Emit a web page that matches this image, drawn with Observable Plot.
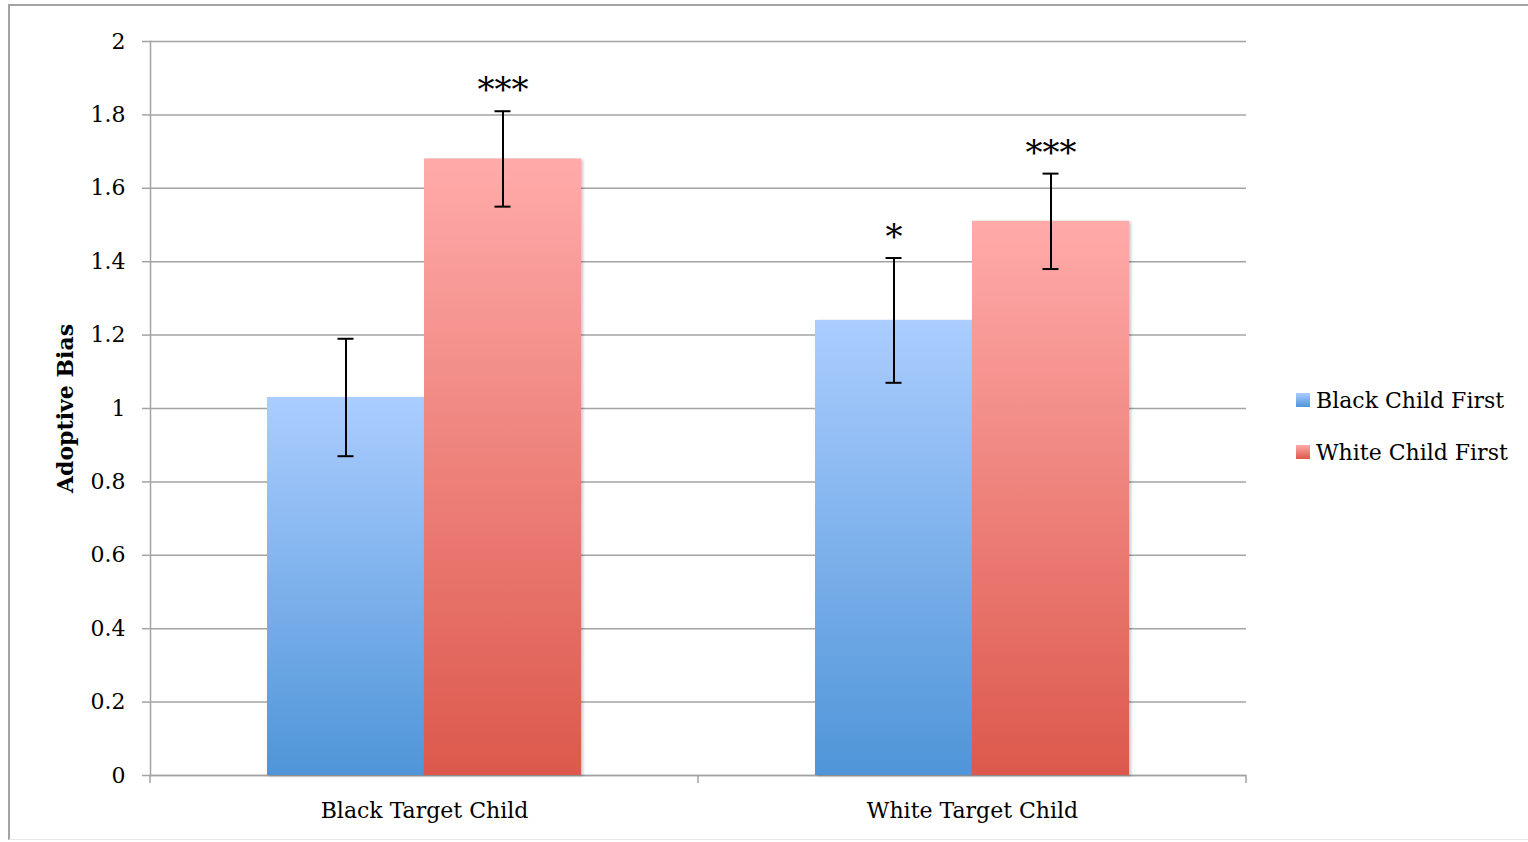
<!DOCTYPE html>
<html><head><meta charset="utf-8">
<script src="https://cdn.jsdelivr.net/npm/d3@7"></script>
<script src="https://cdn.jsdelivr.net/npm/@observablehq/plot@0.6"></script>
<style>
body{margin:0;background:#fff;}
#wrap{position:relative;width:1528px;height:842px;overflow:hidden;font-family:"DejaVu Serif",serif;}
#border{position:absolute;left:8px;top:4px;width:1540px;height:836px;border-left:2px solid #a3a3a3;border-top:2px solid #a3a3a3;border-bottom:1px solid #e8e8e8;box-sizing:border-box;}
#chart{position:absolute;left:0;top:0;}
#chart g[aria-label="y-axis label"] text{font-weight:bold;}
#chart g[aria-label="bar"] rect{filter:drop-shadow(2px 1px 1.5px rgba(0,0,0,0.22));}
#legend{position:absolute;left:1296px;top:386px;font-size:22px;color:#000;}
#legend .row{display:flex;align-items:center;height:28px;margin-bottom:24px;}
#legend .sw{width:14px;height:14px;margin-right:6px;}
</style></head>
<body>
<div id="wrap"><div id="border"></div><div id="chart"></div><div id="legend"></div></div>
<script>
// ---- data ----
const groups = ["Black Target Child", "White Target Child"];
const series = ["Black Child First", "White Child First"];
const blackFirstMean = [1.03, 1.24];
const blackFirstLow = [0.87, 1.07];
const blackFirstHigh = [1.19, 1.41];
const blackFirstSig = ["", "*"];
const whiteFirstMean = [1.68, 1.51];
const whiteFirstLow = [1.55, 1.38];
const whiteFirstHigh = [1.81, 1.64];
const whiteFirstSig = ["***", "***"];
const yTicks = [0, 0.2, 0.4, 0.6, 0.8, 1, 1.2, 1.4, 1.6, 1.8, 2];
const gradients = {
  "Black Child First": ["#abcdff", "#4f95d8"],
  "White Child First": ["#ffabaa", "#dc584c"]
};

const data = [];
groups.forEach((g, i) => {
  data.push({group: g, series: series[0], mean: blackFirstMean[i], lo: blackFirstLow[i], hi: blackFirstHigh[i], sig: blackFirstSig[i]});
  data.push({group: g, series: series[1], mean: whiteFirstMean[i], lo: whiteFirstLow[i], hi: whiteFirstHigh[i], sig: whiteFirstSig[i]});
});
const gradId = s => "grad" + series.indexOf(s);

const gridColor = "#a3a3a3";

const boundaryTicks = Plot.frame({
  facet: "super",
  render(index, scales) {
    const fx = scales.fx, y0 = scales.y(0);
    const xs = groups.map(g => fx(g)).concat([fx(groups[groups.length - 1]) + fx.bandwidth()]);
    const g = d3.create("svg:g");
    g.selectAll("line").data(xs).join("line")
      .attr("x1", d => d).attr("x2", d => d)
      .attr("y1", y0).attr("y2", y0 + 8)
      .attr("stroke", gridColor).attr("stroke-width", 1.5);
    return g.node();
  }
});

const chart = Plot.plot({
  width: 1528, height: 842,
  marginLeft: 150, marginRight: 282, marginTop: 41, marginBottom: 67,
  style: {fontFamily: "DejaVu Serif", fontSize: "22px", color: "#000", background: "transparent", overflow: "visible"},
  fx: {domain: groups, padding: 0, label: null, axis: null},
  x: {domain: series, paddingInner: 0, paddingOuter: 0.74, axis: null},
  y: {domain: [0, 2], axis: null},
  color: {domain: series, range: series.map(s => `url(#${gradId(s)})`)},
  marks: [
    Plot.gridY(yTicks, {stroke: gridColor, strokeOpacity: 1, strokeWidth: 1.5}),
    Plot.ruleY([0], {stroke: gridColor, strokeWidth: 1.5}),
    Plot.frame({anchor: "left", facetAnchor: "left", stroke: gridColor, strokeWidth: 1.5}),
    Plot.axisY(yTicks, {anchor: "left", tickSize: 8, tickPadding: 17, stroke: gridColor, strokeWidth: 1.5,
      tickFormat: d => String(d), label: "Adoptive Bias", labelArrow: "none", labelAnchor: "center", labelOffset: 93, fontSize: 22}),
    boundaryTicks,
    Plot.axisFx({anchor: "bottom", tickSize: 0, tickPadding: 27, label: null, fontSize: 22}),
    Plot.barY(data, {fx: "group", x: "series", y: "mean", fill: "series"}),
    Plot.ruleX(data, {fx: "group", x: "series", y1: "lo", y2: "hi", stroke: "#000", strokeWidth: 2}),
    Plot.tickY(data, {fx: "group", x: "series", y: "lo", stroke: "#000", strokeWidth: 2, insetLeft: 70.5, insetRight: 70.5}),
    Plot.tickY(data, {fx: "group", x: "series", y: "hi", stroke: "#000", strokeWidth: 2, insetLeft: 70.5, insetRight: 70.5}),
    Plot.text(data, {fx: "group", x: "series", y: "hi", text: "sig", dy: -21, fontSize: 34, lineAnchor: "middle"})
  ]
});

// gradient definitions
const defs = d3.select(chart).insert("defs", ":first-child");
series.forEach(s => {
  const lg = defs.append("linearGradient").attr("id", gradId(s))
    .attr("x1", 0).attr("y1", 0).attr("x2", 0).attr("y2", 1);
  lg.append("stop").attr("offset", "0%").attr("stop-color", gradients[s][0]);
  lg.append("stop").attr("offset", "100%").attr("stop-color", gradients[s][1]);
});
document.getElementById("chart").appendChild(chart);

// legend
const legend = d3.select("#legend");
series.forEach(s => {
  const row = legend.append("div").attr("class", "row");
  row.append("div").attr("class", "sw")
    .style("background", `linear-gradient(${gradients[s][0]}, ${gradients[s][1]})`);
  row.append("span").text(s);
});
</script>
</body></html>
